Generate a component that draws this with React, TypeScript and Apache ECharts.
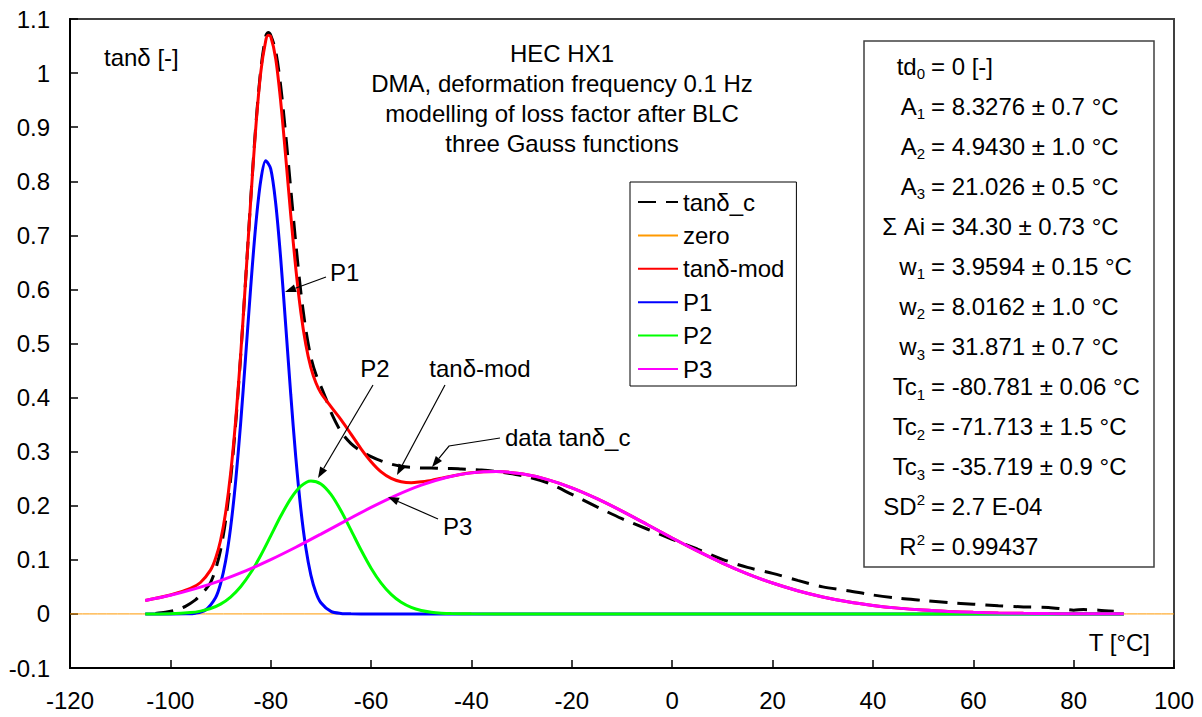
import React, { useEffect, useRef } from 'react';
import * as echarts from 'echarts';

const FONT = "'Liberation Sans', Arial, Helvetica, sans-serif";

// measured data tanδ_c (dashed black)
const dataT = [-103, -101, -99, -97, -95, -94, -93, -92, -91, -90, -89, -88, -87, -86, -85, -84, -83, -82, -81, -80.5, -80, -79, -78, -77, -76, -75, -74, -73, -72, -71, -70, -69, -68, -66, -64, -62, -60, -58, -56, -54, -52, -50, -48, -46, -44, -42, -40, -38, -35, -30, -25, -20, -15, -10, -5, 0, 5, 10, 15, 20, 25, 30, 35, 40, 45, 50, 55, 60, 65, 70, 75, 78, 80, 82, 85, 88];
const dataV = [0.001, 0.003, 0.007, 0.014, 0.026, 0.035, 0.045, 0.058, 0.082, 0.118, 0.172, 0.248, 0.35, 0.476, 0.618, 0.765, 0.9, 1.005, 1.068, 1.075, 1.07, 1.04, 0.975, 0.885, 0.785, 0.685, 0.595, 0.525, 0.475, 0.443, 0.421, 0.398, 0.373, 0.337, 0.315, 0.301, 0.291, 0.283, 0.277, 0.273, 0.271, 0.27, 0.27, 0.269, 0.269, 0.268, 0.267, 0.266, 0.263, 0.256, 0.243, 0.221, 0.198, 0.176, 0.157, 0.138, 0.12, 0.101, 0.086, 0.075, 0.062, 0.05, 0.043, 0.035, 0.029, 0.025, 0.021, 0.018, 0.015, 0.013, 0.012, 0.009, 0.007, 0.008, 0.007, 0.005];

// zero line
const zeroT = [-120, 100];
const zeroV = [0, 0];

// model tanδ-mod (red)
const modT = [-105, -100, -96, -94, -92, -91, -90, -89, -88, -87, -86, -85, -84, -83, -82, -81, -80.5, -80, -79, -78, -77, -76, -75, -74, -73, -72, -71, -70, -68, -66, -64, -62, -60, -58, -56, -54, -52, -50, -48, -46, -44, -40, -35, -30, -25, -20, -15, -10, -5, 0, 5, 10, 15, 20, 25, 30, 35, 40, 45, 50, 55, 60, 65, 70, 75, 80, 85, 90];
const modV = [0.0248, 0.0349, 0.0472, 0.0581, 0.0809, 0.1023, 0.1357, 0.1867, 0.2593, 0.3566, 0.4783, 0.6175, 0.7627, 0.8964, 1.0003, 1.0597, 1.0699, 1.0674, 1.0261, 0.9461, 0.8437, 0.7366, 0.6384, 0.5579, 0.4976, 0.4553, 0.4274, 0.4086, 0.3832, 0.3592, 0.3325, 0.3053, 0.2815, 0.2627, 0.2507, 0.2444, 0.2425, 0.2444, 0.2469, 0.2509, 0.2546, 0.2609, 0.2631, 0.259, 0.2487, 0.2331, 0.2131, 0.1901, 0.1654, 0.1404, 0.1164, 0.0941, 0.0742, 0.0571, 0.0429, 0.0314, 0.0224, 0.0157, 0.0107, 0.0071, 0.0046, 0.0029, 0.0018, 0.0011, 0.0006, 0.0004, 0.0002, 0.0001];

// peak P1 (blue)
const p1T = [-105, -100, -97, -95, -93, -91, -90, -89, -88, -87, -86, -85, -84, -83, -82, -81, -80, -79, -78, -77, -76, -75, -74, -73, -72, -71, -70, -68, -66, -64, -60, -40, -20, 0, 20, 40, 60, 80, 90];
const p1V = [0, 0, 0.0002, 0.0013, 0.0072, 0.03, 0.0558, 0.0973, 0.1592, 0.2443, 0.352, 0.4756, 0.603, 0.7172, 0.8003, 0.8378, 0.8229, 0.7584, 0.6557, 0.5318, 0.4048, 0.289, 0.1936, 0.1217, 0.0717, 0.0397, 0.0206, 0.0046, 0.0008, 0.0001, 0, 0, 0, 0, 0, 0, 0, 0, 0];

// peak P2 (green)
const p2T = [-105, -100, -96, -94, -92, -90, -88, -86, -84, -82, -80, -78, -76, -74, -72, -70, -68, -66, -64, -62, -60, -58, -56, -54, -52, -50, -48, -46, -44, -40, -30, -10, 10, 30, 50, 70, 90];
const p2V = [0, 0.0005, 0.0025, 0.0052, 0.01, 0.0182, 0.0312, 0.0503, 0.076, 0.108, 0.1442, 0.1809, 0.2132, 0.2362, 0.2458, 0.2404, 0.221, 0.1908, 0.1549, 0.1181, 0.0846, 0.0569, 0.036, 0.0214, 0.012, 0.0063, 0.0031, 0.0014, 0.0006, 0.0001, 0, 0, 0, 0, 0, 0, 0];

// peak P3 (magenta)
const p3T = [-105, -100, -95, -90, -85, -80, -75, -70, -65, -60, -55, -50, -45, -40, -35, -30, -25, -20, -15, -10, -5, 0, 5, 10, 15, 20, 25, 30, 35, 40, 45, 50, 55, 60, 65, 70, 75, 80, 85, 90];
const p3V = [0.0248, 0.0344, 0.0467, 0.0617, 0.0796, 0.1003, 0.1232, 0.1476, 0.1726, 0.1969, 0.2192, 0.2381, 0.2523, 0.2608, 0.2631, 0.259, 0.2487, 0.2331, 0.2131, 0.1901, 0.1654, 0.1404, 0.1164, 0.0941, 0.0742, 0.0571, 0.0429, 0.0314, 0.0224, 0.0157, 0.0107, 0.0071, 0.0046, 0.0029, 0.0018, 0.0011, 0.0006, 0.0004, 0.0002, 0.0001];

const legendNames = ['tanδ_c', 'zero', 'tanδ-mod', 'P1', 'P2', 'P3'];

const titleLines = ['HEC HX1', 'DMA, deformation frequency 0.1 Hz', 'modelling of loss factor after BLC', 'three Gauss functions'];

const paramLabels = ['{m|td}{s|0}', '{m|A}{s|1}', '{m|A}{s|2}', '{m|A}{s|3}', '{m|Σ Ai}', '{m|w}{s|1}', '{m|w}{s|2}', '{m|w}{s|3}', '{m|Tc}{s|1}', '{m|Tc}{s|2}', '{m|Tc}{s|3}', '{m|SD}{p|2}', '{m|R}{p|2}'];
const paramValues = ['0 [-]', '8.3276 ± 0.7 °C', '4.9430 ± 1.0 °C', '21.026 ± 0.5 °C', '34.30 ± 0.73 °C', '3.9594 ± 0.15 °C', '8.0162 ± 1.0 °C', '31.871 ± 0.7 °C', '-80.781 ± 0.06 °C', '-71.713 ± 1.5 °C', '-35.719 ± 0.9 °C', '2.7 E-04', '0.99437'];

const mk = (t: number[], v: number[]) => t.map((x, i) => [x, v[i]]);

function arrow(pts: number[][]) {
  const n = pts.length;
  const [x1, y1] = pts[n - 2];
  const [x2, y2] = pts[n - 1];
  const a = Math.atan2(y2 - y1, x2 - x1);
  const L = 11, W = 4;
  const bx = x2 - L * Math.cos(a), by = y2 - L * Math.sin(a);
  const q1 = [bx + W * Math.sin(a), by - W * Math.cos(a)];
  const q2 = [bx - W * Math.sin(a), by + W * Math.cos(a)];
  return [
    { type: 'polyline', z: 100, shape: { points: [...pts.slice(0, n - 1), [bx, by]] }, style: { stroke: '#000', lineWidth: 1.2, fill: null } },
    { type: 'polygon', z: 100, shape: { points: [[x2, y2], q1, q2] }, style: { fill: '#000', stroke: null } },
  ];
}

function txt(text: string, x: number, y: number, align: string = 'left', extra: any = {}) {
  return {
    type: 'text', z: 100, x, y,
    style: { text, fill: '#000', fontSize: 24, fontFamily: FONT, align, verticalAlign: 'middle', ...extra },
  };
}

export default function App() {
  const ref = useRef<HTMLDivElement>(null);
  useEffect(() => {
    const chart = echarts.init(ref.current!, null, { renderer: 'svg' });
    const lineS = (name: string, data: number[][], color: string, width: number, type: any = 'solid') => ({
      name, type: 'line', data, symbol: 'none', showSymbol: false, smooth: 0.3, silent: true,
      lineStyle: { color, width, type, cap: 'butt' }, itemStyle: { color },
    });

    const rowY0 = 66, rowStep = 40.08;
    const paramEls: any[] = [];
    paramLabels.forEach((lab, i) => {
      const y = rowY0 + i * rowStep;
      paramEls.push({
        type: 'text', z: 101, x: 925, y,
        style: {
          text: lab, fill: '#000', align: 'right', verticalAlign: 'middle', fontFamily: FONT, fontSize: 24,
          rich: {
            m: { fontSize: 24, fontFamily: FONT, lineHeight: 30, verticalAlign: 'middle', fill: '#000' },
            s: { fontSize: 15, fontFamily: FONT, lineHeight: 15, verticalAlign: 'bottom', fill: '#000' },
            p: { fontSize: 15, fontFamily: FONT, lineHeight: 15, verticalAlign: 'top', fill: '#000' },
          },
        },
      });
      paramEls.push({
        type: 'text', z: 101, x: 931, y,
        style: { text: '= ' + paramValues[i], fill: '#000', align: 'left', verticalAlign: 'middle', fontFamily: FONT, fontSize: 24 },
      });
    });

    const option: any = {
      animation: false,
      backgroundColor: '#fff',
      textStyle: { fontFamily: FONT },
      grid: { left: 70, top: 19, width: 1104, height: 649, show: true, borderColor: '#404040', borderWidth: 2, backgroundColor: 'transparent' },
      xAxis: {
        type: 'value', min: -120, max: 100, interval: 20,
        axisLine: { show: true, onZero: false, lineStyle: { color: '#000', width: 2 } },
        axisTick: { show: true, inside: true, length: 8, lineStyle: { color: '#000', width: 1.5 } },
        axisLabel: { fontSize: 24, color: '#000', fontFamily: FONT, margin: 20 },
        splitLine: { show: false },
      },
      yAxis: {
        type: 'value', min: -0.1, max: 1.1, interval: 0.1,
        axisLine: { show: true, onZero: false, lineStyle: { color: '#000', width: 2 } },
        axisTick: { show: true, inside: true, length: 8, lineStyle: { color: '#000', width: 1.5 } },
        axisLabel: { fontSize: 24, color: '#000', fontFamily: FONT, margin: 20 },
        splitLine: { show: false },
      },
      legend: {
        orient: 'vertical', left: 630, top: 182,
        data: legendNames,
        itemWidth: 40, itemHeight: 14, itemGap: 7.4,
        padding: [7, 12, 4, 7],
        borderColor: '#000', borderWidth: 1, backgroundColor: '#fff',
        selectedMode: false,
        itemStyle: { opacity: 0, borderWidth: 0 },
        textStyle: { fontSize: 24, fontFamily: FONT, color: '#000', lineHeight: 26 },
      },
      series: [
        lineS('tanδ_c', mk(dataT, dataV), '#000000', 3, [18, 10]),
        lineS('zero', mk(zeroT, zeroV), '#FF9900', 1),
        lineS('tanδ-mod', mk(modT, modV), '#FF0000', 3),
        lineS('P1', mk(p1T, p1V), '#0000FF', 3),
        lineS('P2', mk(p2T, p2V), '#00FF00', 3),
        lineS('P3', mk(p3T, p3V), '#FF00FF', 3),
      ],
      graphic: {
        elements: [
          {
            type: 'text', z: 100, x: 562, y: 38,
            style: { text: titleLines.join('\n'), fill: '#000', fontSize: 24, fontFamily: FONT, align: 'center', verticalAlign: 'top', lineHeight: 30 },
          },
          txt('tanδ [-]', 104, 57),
          txt('T [°C]', 1150, 642, 'right'),
          { type: 'rect', z: 99, shape: { x: 864, y: 41, width: 290, height: 526 }, style: { fill: '#fff', stroke: '#404040', lineWidth: 1.5 } },
          ...paramEls,
          txt('P1', 330, 272),
          ...arrow([[326, 277], [285, 292]]),
          txt('P2', 375, 368, 'center'),
          ...arrow([[373, 385], [318, 478]]),
          txt('tanδ-mod', 480, 368, 'center'),
          ...arrow([[445, 385], [397, 475]]),
          txt('data tanδ_c', 505, 437),
          ...arrow([[500, 438], [449, 446], [432, 467]]),
          txt('P3', 443, 526),
          ...arrow([[438, 519], [388, 497]]),
        ],
      },
    };
    chart.setOption(option);
    return () => chart.dispose();
  }, []);
  return <div ref={ref} style={{ position: 'fixed', left: 0, top: 0, width: 1202, height: 717, background: '#fff' }} />;
}
